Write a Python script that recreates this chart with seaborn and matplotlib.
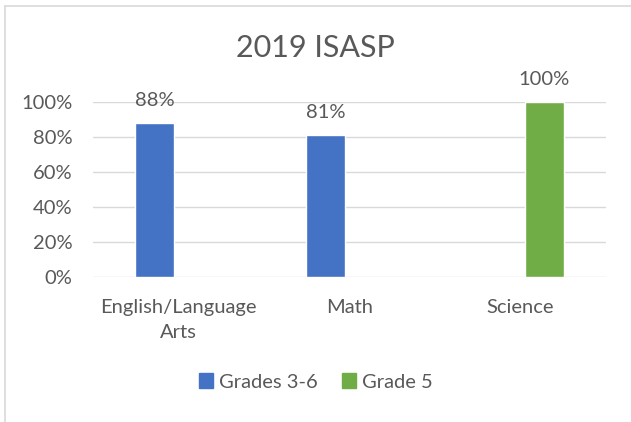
import matplotlib
matplotlib.use("Agg")
import matplotlib.pyplot as plt
import seaborn as sns
import pandas as pd
from matplotlib.ticker import PercentFormatter
from matplotlib.patches import Rectangle
from matplotlib.lines import Line2D

subjects = ["English/Language\nArts", "Math", "Science"]
groups = ["Grades 3-6", "Grades 3-6", "Grade 5"]
values = [0.88, 0.81, 1.00]
hue_order = ["Grades 3-6", "Grade 5"]
colors = ["#4472C4", "#70AD47"]
title = "2019 ISASP"

df = pd.DataFrame({"Subject": subjects, "Group": groups, "Value": values})

sns.set_theme(style="white")
plt.rcParams['font.family'] = ['Lato', 'DejaVu Sans']
text_color = "#595959"
fs = 14.5

fig = plt.figure(figsize=(6.31, 4.22), dpi=100)
ax = fig.add_axes([93/631, 1-277/422, (606-93)/631, (277-102)/422])

sns.barplot(data=df, x="Subject", y="Value", hue="Group", hue_order=hue_order,
            order=subjects, palette=colors, width=0.56, gap=0.2, dodge=True, ax=ax,
            legend=False, saturation=1)

ax.set_ylim(0, 1)
ax.set_yticks([0, 0.2, 0.4, 0.6, 0.8, 1.0])
ax.yaxis.set_major_formatter(PercentFormatter(1.0, decimals=0))
ax.grid(axis="y", color="#D9D9D9", linewidth=1)
ax.set_axisbelow(True)
for s in ax.spines.values():
    s.set_visible(False)
ax.set_xlabel("")
ax.set_ylabel("")
ax.tick_params(axis="both", length=0, labelsize=fs, colors=text_color)
ax.tick_params(axis="x", pad=15.5)
ax.tick_params(axis="y", pad=15)
for lbl in ax.get_xticklabels():
    lbl.set_linespacing(1.6)

for c in ax.containers:
    labels = [f"{v*100:.0f}%" if v == v else "" for v in c.datavalues]
    ax.bar_label(c, labels=labels, padding=10, fontsize=fs, color=text_color, clip_on=False)

handles = [Rectangle((0, 0), 1, 1, color=col) for col in colors]
ax.legend(handles, hue_order, loc="center", bbox_to_anchor=(0.5, (422-382)/422),
          bbox_transform=fig.transFigure, ncol=2, frameon=False, fontsize=fs,
          handlelength=0.7, handleheight=0.7, handletextpad=0.3, columnspacing=1.2,
          labelcolor=text_color)

fig.text(0.5, 1-48/422, title, ha="center", va="center", fontsize=22, color=text_color)

# border (cropped at right/bottom)
fig.add_artist(Line2D([4.5/631, 4.5/631], [0, 1-6/422], transform=fig.transFigure, color="#D9D9D9", lw=1.2))
fig.add_artist(Line2D([4.5/631, 1], [1-6/422, 1-6/422], transform=fig.transFigure, color="#D9D9D9", lw=1.2))

fig.savefig("out.png", dpi=100)
